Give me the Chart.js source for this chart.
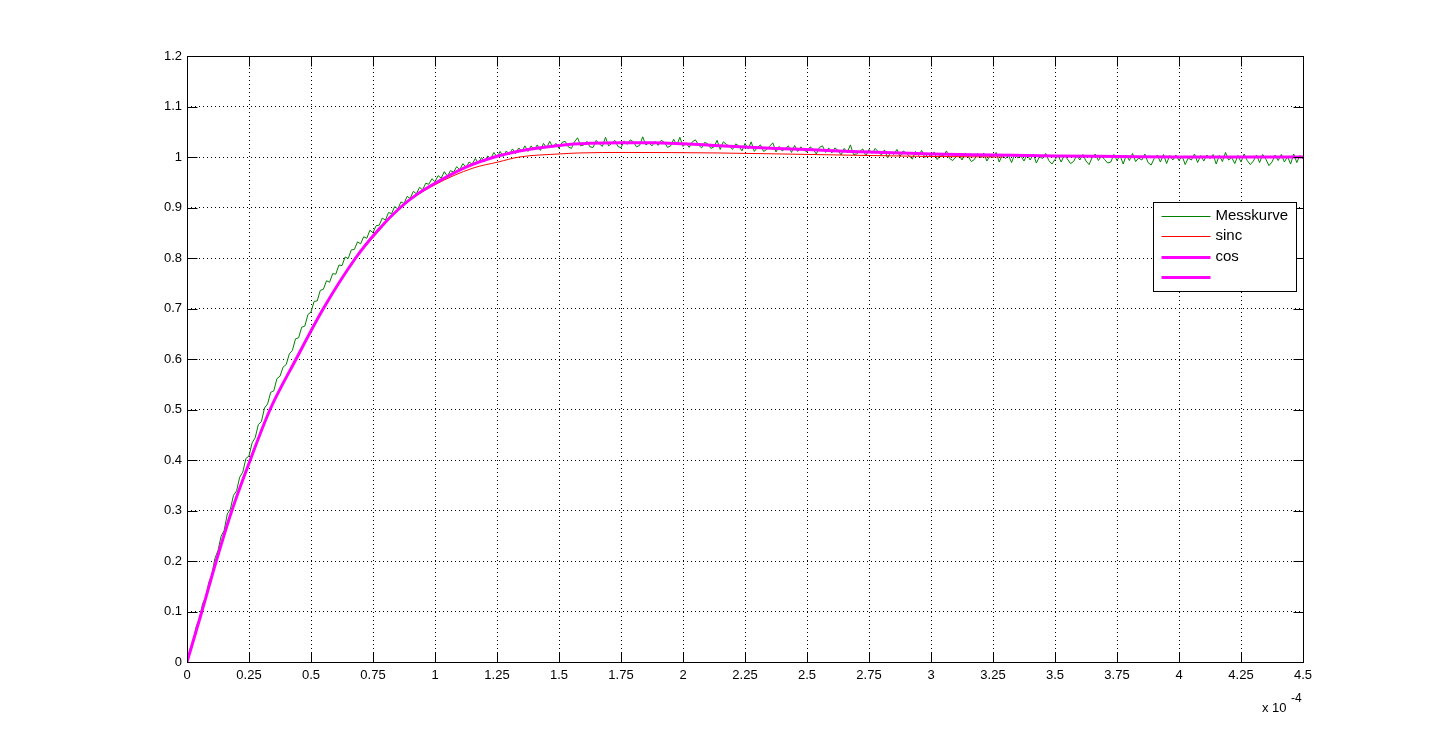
<!DOCTYPE html>
<html>
<head>
<meta charset="utf-8">
<title>Messkurve</title>
<script src="https://cdn.jsdelivr.net/npm/chart.js@4.4.1/dist/chart.umd.min.js"></script>
<style>
  html, body { margin: 0; padding: 0; background: #fff; }
  canvas { display: block; }
</style>
</head>
<body>
<canvas id="chart" width="1440" height="744"></canvas>
<script>
// x values are in units of 1e-4 s (axis shows "x 10^-4")
const xTicksStep = 0.25
const yTicksStep = 0.1

const messStep = 0.0125
const messY = [
  0.000, 0.026, 0.041, 0.071, 0.085, 0.115, 0.128, 0.157,
  0.173, 0.205, 0.221, 0.249, 0.261, 0.293, 0.303, 0.330,
  0.339, 0.366, 0.376, 0.403, 0.408, 0.434, 0.444, 0.470,
  0.476, 0.503, 0.511, 0.534, 0.537, 0.561, 0.566, 0.584,
  0.589, 0.610, 0.617, 0.640, 0.642, 0.663, 0.665, 0.688,
  0.693, 0.714, 0.715, 0.736, 0.738, 0.755, 0.752, 0.769,
  0.768, 0.786, 0.785, 0.802, 0.799, 0.816, 0.817, 0.832,
  0.828, 0.842, 0.839, 0.855, 0.850, 0.864, 0.865, 0.879,
  0.875, 0.890, 0.888, 0.902, 0.897, 0.911, 0.908, 0.922,
  0.918, 0.932, 0.927, 0.940, 0.935, 0.948, 0.946, 0.957,
  0.951, 0.963, 0.958, 0.971, 0.962, 0.973, 0.970, 0.981,
  0.975, 0.987, 0.979, 0.990, 0.986, 0.997, 0.988, 0.999,
  0.991, 1.002, 0.997, 1.009, 1.000, 1.011, 1.001, 1.012,
  1.005, 1.016, 1.007, 1.018, 1.011, 1.022, 1.011, 1.022,
  1.014, 1.024, 1.013, 1.027, 1.018, 1.031, 1.019, 1.027,
  1.017, 1.029, 1.031, 1.020, 1.017, 1.030, 1.038, 1.022,
  1.024, 1.031, 1.020, 1.019, 1.033, 1.026, 1.021, 1.039,
  1.022, 1.027, 1.033, 1.021, 1.018, 1.032, 1.025, 1.034,
  1.030, 1.020, 1.023, 1.040, 1.024, 1.028, 1.022, 1.031,
  1.023, 1.033, 1.029, 1.019, 1.022, 1.035, 1.024, 1.039,
  1.021, 1.028, 1.019, 1.030, 1.034, 1.024, 1.018, 1.029,
  1.026, 1.017, 1.020, 1.033, 1.015, 1.030, 1.025, 1.021,
  1.015, 1.026, 1.022, 1.012, 1.027, 1.016, 1.030, 1.011,
  1.019, 1.024, 1.011, 1.015, 1.022, 1.028, 1.010, 1.021,
  1.012, 1.017, 1.022, 1.009, 1.023, 1.011, 1.020, 1.014,
  1.010, 1.020, 1.015, 1.006, 1.019, 1.022, 1.009, 1.018,
  1.008, 1.018, 1.013, 1.004, 1.017, 1.009, 1.024, 1.005,
  1.006, 1.011, 1.016, 1.002, 1.015, 1.007, 1.017, 1.010,
  1.004, 1.014, 0.998, 1.010, 1.005, 1.015, 1.001, 1.012,
  1.008, 1.002, 0.996, 1.011, 1.003, 1.013, 0.999, 1.006,
  1.001, 1.010, 0.995, 1.004, 1.002, 1.012, 0.997, 0.993,
  1.000, 1.006, 0.994, 1.008, 1.001, 0.991, 0.995, 1.007,
  0.998, 1.008, 0.992, 1.002, 0.999, 1.009, 0.990, 1.004,
  0.997, 1.003, 0.989, 1.006, 0.998, 1.002, 0.992, 1.005,
  0.994, 1.006, 0.988, 1.001, 0.997, 1.007, 0.993, 0.986,
  0.995, 1.003, 0.990, 1.004, 0.996, 0.987, 0.991, 1.003,
  0.994, 1.005, 0.992, 0.985, 0.999, 1.006, 0.993, 1.002,
  0.995, 0.988, 0.990, 1.005, 0.993, 1.003, 0.986, 1.004,
  0.993, 1.007, 0.991, 0.998, 0.994, 1.006, 0.989, 0.984,
  0.997, 1.004, 0.990, 1.005, 0.987, 1.003, 0.994, 1.004,
  0.993, 1.002, 0.985, 0.998, 0.994, 1.006, 0.989, 1.003,
  0.992, 1.004, 0.997, 1.005, 0.986, 1.003, 0.991, 1.009,
  0.994, 0.999, 0.987, 1.003, 0.990, 1.006, 0.993, 0.985,
  0.992, 1.004, 0.989, 1.005, 0.996, 0.983, 0.990, 1.004,
  0.993, 1.005, 0.990, 1.001, 0.986, 1.006, 0.989, 1.003,
  0.996
]

// sinc fit
const sincX = [0, 0.06, 0.118, 0.181, 0.255, 0.335, 0.44, 0.55, 0.68, 0.76, 0.86, 1.0, 1.153, 1.254, 1.34, 1.5, 1.58, 1.77, 2.14, 2.4, 2.75, 3.0, 3.29]
const sincY = [0, 0.1, 0.2, 0.3, 0.4, 0.5, 0.6, 0.7, 0.8, 0.846, 0.9, 0.945, 0.978, 0.99, 1.0, 1.006, 1.008, 1.009, 1.008, 1.006, 1.003, 1.001, 1.0]

// cos fit
const cosX = [0, 0.06, 0.118, 0.181, 0.255, 0.335, 0.44, 0.55, 0.68, 0.77, 0.86, 0.93, 1.0, 1.125, 1.254, 1.375, 1.5, 1.625, 1.75, 1.875, 2.0, 2.125, 2.25, 2.375, 2.5, 2.625, 2.75, 2.875, 3.0, 3.25, 3.5, 3.75, 4.0, 4.25, 4.5]
const cosY = [0, 0.1, 0.2, 0.3, 0.4, 0.5, 0.6, 0.7, 0.8, 0.855, 0.9, 0.927, 0.948, 0.98, 1.002, 1.015, 1.023, 1.027, 1.028, 1.028, 1.026, 1.023, 1.02, 1.017, 1.015, 1.012, 1.01, 1.008, 1.006, 1.004, 1.002, 1.001, 1.0, 1.0, 1.0]

const seriesLabels = ['Messkurve', 'sinc', 'cos', '']

function toPoints(xs, ys) {
  return ys.map(function(y, i) { return { x: xs[i], y: y } })
}

const messX = messY.map(function(v, i) { return i * messStep })

function fmt(v) {
  return String(+v.toFixed(4))
}

// frame, inward ticks, exponent label and boxed legend like the old matlab figure
const matlabAxes = {
  id: 'matlabAxes',
  afterDraw(chart) {
    const ctx = chart.ctx
    const area = chart.chartArea
    const xs = chart.scales.x
    const ys = chart.scales.y
    const L = Math.round(area.left) + 0.5
    const R = Math.round(area.right) + 0.5
    const T = Math.round(area.top) + 0.5
    const B = Math.round(area.bottom) + 0.5
    const tl = 10

    ctx.save()
    ctx.strokeStyle = '#000'
    ctx.lineWidth = 1
    ctx.beginPath()
    xs.ticks.forEach(function(t) {
      const px = Math.round(xs.getPixelForValue(t.value)) + 0.5
      ctx.moveTo(px, B); ctx.lineTo(px, B - tl)
      ctx.moveTo(px, T); ctx.lineTo(px, T + tl)
    })
    ys.ticks.forEach(function(t) {
      const py = Math.round(ys.getPixelForValue(t.value)) + 0.5
      ctx.moveTo(L, py); ctx.lineTo(L + tl, py)
      ctx.moveTo(R, py); ctx.lineTo(R - tl, py)
    })
    ctx.stroke()
    ctx.strokeRect(L, T, R - L, B - T)

    // exponent
    ctx.fillStyle = '#000'
    ctx.textBaseline = 'alphabetic'
    ctx.font = '13px "Liberation Sans", Arial, sans-serif'
    ctx.textAlign = 'left'
    ctx.fillText('x 10', area.right - 41, area.bottom + 50)
    ctx.font = '12px "Liberation Sans", Arial, sans-serif'
    ctx.fillText('-4', area.right - 12, area.bottom + 40)

    // legend
    const bw = 143, bh = 89
    const bx = Math.round(area.right - 150) + 0.5
    const by = Math.round(area.top + 146) + 0.5
    ctx.fillStyle = '#fff'
    ctx.fillRect(bx, by, bw, bh)
    ctx.strokeStyle = '#000'
    ctx.lineWidth = 1
    ctx.strokeRect(bx, by, bw, bh)
    ctx.font = '15px "Liberation Sans", Arial, sans-serif'
    ctx.textBaseline = 'middle'
    chart.data.datasets.forEach(function(ds, i) {
      const ly = Math.round(by + 13 + i * 20.5)
      ctx.strokeStyle = ds.borderColor
      ctx.lineWidth = ds.borderWidth
      ctx.beginPath()
      ctx.moveTo(bx + 8, ly + (ds.borderWidth % 2 ? 0.5 : 0))
      ctx.lineTo(bx + 57, ly + (ds.borderWidth % 2 ? 0.5 : 0))
      ctx.stroke()
      ctx.fillStyle = '#000'
      ctx.fillText(ds.label, bx + 62, ly)
    })
    ctx.restore()
  }
}

const ctx = document.getElementById('chart').getContext('2d')
Chart.defaults.font.family = '"Liberation Sans", Arial, sans-serif'
Chart.defaults.font.size = 13
Chart.defaults.color = '#000'

new Chart(ctx, {
  type: 'line',
  data: {
    datasets: [
      {
        label: seriesLabels[0],
        data: toPoints(messX, messY),
        borderColor: '#008000',
        borderWidth: 1,
        order: 4
      },
      {
        label: seriesLabels[1],
        data: toPoints(sincX, sincY),
        borderColor: '#ff0000',
        borderWidth: 1,
        cubicInterpolationMode: 'monotone',
        order: 3
      },
      {
        label: seriesLabels[2],
        data: toPoints(cosX, cosY),
        borderColor: '#ff00ff',
        borderWidth: 3,
        cubicInterpolationMode: 'monotone',
        order: 2
      },
      {
        label: seriesLabels[3],
        data: [],
        borderColor: '#ff00ff',
        borderWidth: 3,
        order: 1
      }
    ]
  },
  options: {
    responsive: false,
    animation: false,
    elements: {
      point: { radius: 0 },
      line: { tension: 0, fill: false }
    },
    layout: {
      padding: { left: 0, right: 137, top: 56, bottom: 0 }
    },
    plugins: {
      legend: { display: false },
      tooltip: { enabled: false }
    },
    scales: {
      x: {
        type: 'linear',
        min: 0,
        max: 4.5,
        afterFit: function(s) { s.height = 82 },
        ticks: {
          stepSize: xTicksStep,
          autoSkip: false,
          maxRotation: 0,
          padding: 6,
          callback: fmt
        },
        grid: { color: '#000', lineWidth: 1, drawTicks: false, tickLength: 0 },
        border: { display: false, dash: [1, 3] }
      },
      y: {
        type: 'linear',
        min: 0,
        max: 1.2,
        afterFit: function(s) { s.width = 187 },
        ticks: {
          stepSize: yTicksStep,
          autoSkip: false,
          padding: 5,
          callback: fmt
        },
        grid: { color: '#000', lineWidth: 1, drawTicks: false, tickLength: 0 },
        border: { display: false, dash: [1, 3] }
      }
    }
  },
  plugins: [matlabAxes]
})
</script>
</body>
</html>
